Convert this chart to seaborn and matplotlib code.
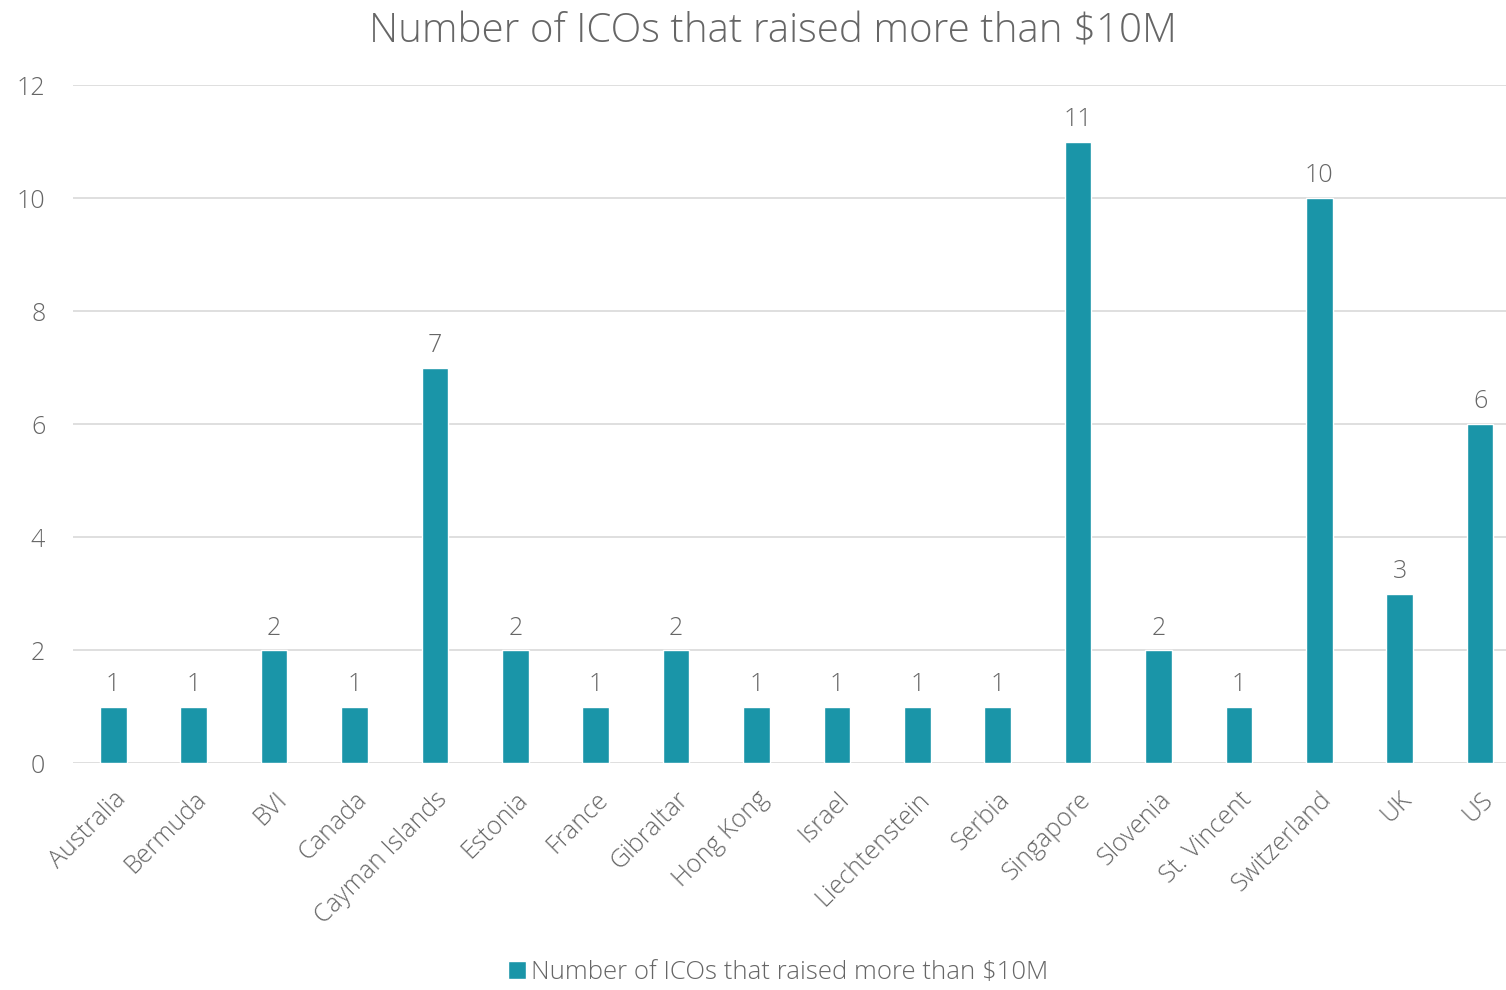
import pandas as pd
import matplotlib
matplotlib.use("Agg")
import matplotlib.pyplot as plt
import seaborn as sns

# ------------------------------
# Data
# ------------------------------
countries = ["Australia", "Bermuda", "BVI", "Canada", "Cayman Islands", "Estonia",
             "France", "Gibraltar", "Hong Kong", "Israel", "Liechtenstein", "Serbia",
             "Singapore", "Slovenia", "St. Vincent", "Switzerland", "UK", "US"]
counts = [1, 1, 2, 1, 7, 2, 1, 2, 1, 1, 1, 1, 11, 2, 1, 10, 3, 6]
series_name = "Number of ICOs that raised more than $10M"
y_ticks = [0, 2, 4, 6, 8, 10, 12]

df = pd.DataFrame({"Country": countries, "Count": counts, "Series": series_name})

# ------------------------------
# Style
# ------------------------------
sns.set_theme(style="white")
plt.rcParams["font.family"] = ["Open Sans", "DejaVu Sans"]
plt.rcParams["font.weight"] = "light"
text_col = "#666666"
bar_col = "#1a95a8"

fig = plt.figure(figsize=(15.06, 9.9), dpi=100)
ax = fig.add_axes([0.0485, 0.229, 0.961, 0.685])

sns.barplot(data=df, x="Country", y="Count", hue="Series", palette=[bar_col],
            width=0.33, ax=ax, saturation=1)

ax.set_ylim(0, 12)
ax.set_xlim(-0.5, len(countries) - 0.5)
ax.set_yticks(y_ticks)
ax.yaxis.grid(True, color="#d9d9d9", linewidth=1.2)
ax.set_axisbelow(True)
for s in ax.spines.values():
    s.set_visible(False)
ax.tick_params(axis="both", length=0, colors=text_col)
ax.tick_params(axis="y", pad=20, labelsize=18)
ax.tick_params(axis="x", pad=17, labelsize=18)
plt.setp(ax.get_xticklabels(), rotation=45, ha="right", rotation_mode="anchor")
ax.set_xlabel("")
ax.set_ylabel("")

for c in ax.containers:
    ax.bar_label(c, padding=7, fontsize=18, color=text_col)

fig.text(0.513, 0.968, series_name, ha="center", va="center", fontsize=29, color=text_col)

sns.move_legend(ax, "center", bbox_to_anchor=(0.487, -0.308), frameon=False,
                title=None, fontsize=18.5, handlelength=0.7, handleheight=0.7,
                handletextpad=0.2, labelcolor=text_col)

fig.savefig("out.png", dpi=100)
